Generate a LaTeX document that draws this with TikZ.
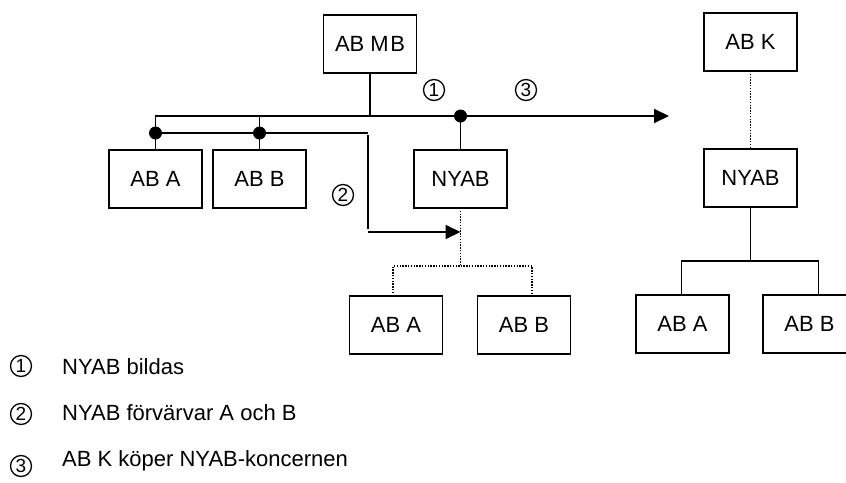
\documentclass[tikz,border=0pt]{standalone}
\usepackage{fontspec}
\setmainfont{Liberation Sans}
\usetikzlibrary{positioning,arrows.meta}

\begin{document}
\begin{tikzpicture}[x=1pt, y=-1pt,
                    orgbox/.style={rectangle, draw=black, line width=1.8pt, minimum width=93pt, minimum height=58pt, outer sep=0pt, font=\fontsize{22}{26}\selectfont},
                    link/.style={draw=black, line width=1.9pt},
                    dotlink/.style={draw=black, line width=1.7pt, dash pattern=on 1.4pt off 1.4pt},
                    bigtip/.style={-{Triangle[length=15pt, width=14pt]}},
                    joint/.style={circle, fill=black, inner sep=0pt, minimum size=13pt},
                    stepno/.style={circle, draw=black, line width=1.3pt, inner sep=0pt, minimum size=21pt, font=\fontsize{19}{22}\selectfont},
                    legtext/.style={anchor=west, inner sep=0pt, font=\fontsize{22}{26}\selectfont}
                ]
                    \useasboundingbox (0,0) rectangle (846,482);
                    % before
                    \node[orgbox] (abmb) at (370,44) {AB M\kern1.5pt B};
                    \node[orgbox] (aba) at (155.5,179) {AB A};
                    \node[orgbox] (abb) [right=11pt of aba] {AB B};
                    \node[orgbox] (nyab) at (460.5,179) {NYAB};
                    \node[orgbox] (laba) at (396,325) {AB A};
                    \node[orgbox] (labb) [right=35pt of laba] {AB B};
                    % after
                    \node[orgbox] (abk) at (750.5,42) {AB K};
                    \node[orgbox] (knyab) at (750.5,178) {NYAB};
                    \node[orgbox] (kaba) at (682.5,324) {AB A};
                    \node[orgbox] (kabb) [right=34pt of kaba] {AB B};

                    \coordinate (busend) at (669,116);
                    \coordinate (turn) at (368,133);
                    \coordinate (hook) at (368,232);

                    \draw[link, bigtip] (aba.north) |- (busend);
                    \draw[link] (abb.north) -- (abb.north |- busend);
                    \draw[link] (abmb.south) -- (abmb.south |- busend);
                    \draw[link] (nyab.north) -- (nyab.north |- busend);
                    \node[joint] at (nyab.north |- busend) {};

                    \draw[link] (aba.north |- turn) -- (turn);
                    \draw[link] ([yshift=-2pt]turn) -- ([yshift=3pt]hook);
                    \draw[link, bigtip] (hook) -- (nyab.south |- hook);
                    \node[joint] at (aba.north |- turn) {};
                    \node[joint] at (abb.north |- turn) {};

                    \draw[dotlink] (nyab.south) -- ++(0,58) -| ([xshift=-3pt]laba.north);
                    \draw[dotlink] (nyab.south) ++(0,58) -| ([xshift=8pt]labb.north);

                    \draw[dotlink] (abk.south) -- (knyab.north);
                    \draw[link] (knyab.south) -- ++(0,54) -| ([xshift=-1pt]kaba.north);
                    \draw[link] (knyab.south) ++(0,54) -| ([xshift=9pt]kabb.north);

                    \node[stepno] (one) at (434,90) {1};
                    \node[stepno] (two) at (343,195) {2};
                    \node[stepno] (three) at (526,90) {3};

                    % legend
                    \node[stepno] (lone) at (21,366) {1};
                    \node[legtext] (tone) at (62,367) {NYAB bildas};
                    \node[stepno] (ltwo) at (21,414) {2};
                    \node[legtext] (ttwo) at (62,413) {NYAB förvärvar A och B};
                    \node[stepno] (lthree) at (21,466) {3};
                    \node[legtext] (tthree) at (62,461) {AB K köper NYAB-koncernen};
                \end{tikzpicture}
\end{document}
